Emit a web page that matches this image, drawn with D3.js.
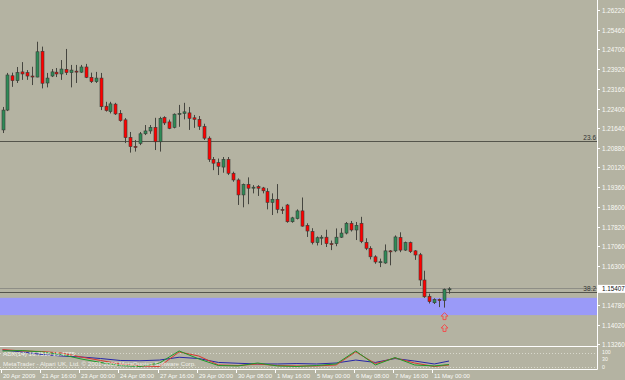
<!DOCTYPE html>
<html>
<head>
<meta charset="utf-8">
<script src="https://cdn.jsdelivr.net/npm/d3@7"></script>
<style>
  html, body { margin: 0; padding: 0; background: #b4b3a2; }
  svg { display: block; }
  text { font-family: "Liberation Sans", Arial, sans-serif; }
</style>
</head>
<body>
<svg id="chart"></svg>
<script>
// EURUSD H4 bars, 20 Apr 2009 08:00 .. 11 May 2009 12:00
const opens = [1.2157,1.2234,1.2367,1.2348,1.2382,1.2379,1.2366,1.2362,1.2462,1.2339,
  1.2366,1.2381,1.2374,1.2392,1.2379,1.2385,1.2381,1.2401,1.2361,1.2344,
  1.2358,1.2249,1.2228,1.2257,1.2221,1.2196,1.2128,1.2093,1.2105,1.2142,
  1.2153,1.2167,1.2111,1.2205,1.2188,1.2167,1.2218,1.2221,1.2223,1.2204,
  1.2198,1.2170,1.2125,1.2043,1.2030,1.2013,1.2043,1.1989,1.1963,1.1905,
  1.1946,1.1934,1.1937,1.1932,1.1918,1.1876,1.1888,1.1849,1.1866,1.1801,
  1.1813,1.1843,1.1787,1.1763,1.1720,1.1740,1.1741,1.1716,1.1716,1.1741,
  1.1757,1.1795,1.1769,1.1795,1.1721,1.1698,1.1665,1.1645,1.1641,1.1688,
  1.1688,1.1740,1.1691,1.1720,1.1688,1.1673,1.1575,1.1512,1.1487,1.1500,
  1.1496,1.1539]
const highs = [1.2246,1.2378,1.2379,1.2401,1.2420,1.2389,1.2402,1.2499,1.2480,1.2378,
  1.2393,1.2397,1.2428,1.2471,1.2409,1.2409,1.2409,1.2413,1.2379,1.2382,
  1.2378,1.2266,1.2266,1.2262,1.2234,1.2203,1.2149,1.2118,1.2149,1.2176,
  1.2176,1.2204,1.2208,1.2210,1.2197,1.2221,1.2254,1.2262,1.2246,1.2215,
  1.2211,1.2181,1.2132,1.2052,1.2046,1.2052,1.2052,1.1995,1.1969,1.1949,
  1.1973,1.1943,1.1943,1.1936,1.1931,1.1911,1.1947,1.1859,1.1870,1.1820,
  1.1849,1.1895,1.1795,1.1776,1.1744,1.1749,1.1770,1.1728,1.1775,1.1776,
  1.1800,1.1804,1.1800,1.1820,1.1737,1.1706,1.1671,1.1658,1.1713,1.1691,
  1.1748,1.1760,1.1724,1.1724,1.1691,1.1680,1.1611,1.1522,1.1504,1.1503,
  1.1542,1.1547]
const lows = [1.2145,1.2230,1.2324,1.2339,1.2351,1.2351,1.2331,1.2361,1.2318,1.2322,
  1.2362,1.2362,1.2351,1.2370,1.2322,1.2339,1.2378,1.2358,1.2339,1.2339,
  1.2234,1.2228,1.2221,1.2215,1.2189,1.2106,1.2069,1.2073,1.2098,1.2137,
  1.2142,1.2079,1.2073,1.2176,1.2160,1.2163,1.2169,1.2198,1.2157,1.2165,
  1.2157,1.2118,1.2033,1.2001,1.1982,1.1991,1.1982,1.1956,1.1866,1.1857,
  1.1869,1.1911,1.1901,1.1911,1.1849,1.1827,1.1834,1.1831,1.1797,1.1797,
  1.1810,1.1782,1.1742,1.1713,1.1709,1.1711,1.1703,1.1691,1.1706,1.1738,
  1.1752,1.1763,1.1730,1.1718,1.1691,1.1655,1.1638,1.1625,1.1638,1.1632,
  1.1683,1.1683,1.1688,1.1680,1.1653,1.1552,1.1506,1.1484,1.1482,1.1470,
  1.1468,1.1522]
const closes = [1.2234,1.2370,1.2348,1.2379,1.2374,1.2366,1.2365,1.2460,1.2338,1.2358,
  1.2382,1.2374,1.2393,1.2379,1.2389,1.2382,1.2401,1.2361,1.2344,1.2358,
  1.2247,1.2232,1.2258,1.2219,1.2193,1.2127,1.2092,1.2091,1.2142,1.2153,
  1.2167,1.2111,1.2202,1.2184,1.2163,1.2218,1.2221,1.2227,1.2202,1.2198,
  1.2171,1.2125,1.2043,1.2028,1.2016,1.2043,1.1989,1.1963,1.1905,1.1946,
  1.1931,1.1935,1.1931,1.1921,1.1876,1.1888,1.1849,1.1848,1.1801,1.1816,
  1.1843,1.1784,1.1765,1.1720,1.1739,1.1741,1.1716,1.1714,1.1741,1.1757,
  1.1795,1.1769,1.1787,1.1724,1.1698,1.1665,1.1645,1.1646,1.1688,1.1687,
  1.1742,1.1691,1.1720,1.1685,1.1672,1.1575,1.1510,1.1491,1.1500,1.1495,
  1.1539,1.15407]

const priceLabels = ["1.26220","1.25460","1.24700","1.23920","1.23160","1.22400","1.21640",
  "1.20880","1.20120","1.19360","1.18600","1.17820","1.17060","1.16300","1.14780","1.14020","1.13260"]
const timeLabels = ["20 Apr 2009","21 Apr 16:00","23 Apr 00:00","24 Apr 08:00","27 Apr 16:00",
  "29 Apr 00:00","30 Apr 08:00","1 May 16:00","5 May 00:00","6 May 08:00","7 May 16:00","11 May 00:00"]
const timeLabelBars = [0,8,16,24,32,40,48,56,64,72,80,88]

const fibNames = ["23.6","38.2"]
const fibPrices = [1.2114, 1.1530]
const bidPrice = 1.15407
const zonePrices = [1.1506, 1.1439]
const arrowBar = 90
const arrowPrices = [1.1435, 1.1389]

// indicator window, read every 4 bars
const indBars = [0,4,8,12,16,20,24,28,32,36,40,44,48,52,56,60,64,68,72,76,80,84,88,91]
const indBlue = [118,104,86,75,68,57,43,41,46,66,57,29,23,18,18,21,18,25,46,29,57,39,18,39]
const indRed = [121,111,107,96,68,43,18,4,0,104,75,11,7,18,7,4,4,11,104,21,61,25,0,11]
const indGreen = [111,114,104,86,54,29,7,0,25,111,54,7,4,25,4,0,7,18,111,11,64,11,4,14]
const indLabels = ["100","30","0"]
const indLevels = [100, 30, 0]

// constants
const width = 625
const height = 380
const plotRight = 597
const mainBottom = 346
const indTop = 347
const indBottom = 369
const bg = "#b4b3a2"

const svg = d3.select('svg#chart').attr('width', width).attr('height', height)
svg.append('rect').attr('width', width).attr('height', height).attr('fill', bg)

const x = d3.scaleLinear().domain([0, 91]).range([2.5, 449])
const y = d3.scaleLinear().domain([1.2622, 1.1330]).range([10, 343.2])
const yi = d3.scaleLinear().domain([0, 100]).range([366.5, 352.5])

svg.append('clipPath').attr('id', 'mainClip')
  .append('rect').attr('x', 0).attr('y', 0).attr('width', plotRight).attr('height', mainBottom)
svg.append('clipPath').attr('id', 'indClip')
  .append('rect').attr('x', 0).attr('y', indTop).attr('width', plotRight).attr('height', indBottom - indTop)

const main = svg.append('g').attr('clip-path', 'url(#mainClip)')

// blue zone
main.append('rect')
  .attr('x', 0).attr('width', plotRight)
  .attr('y', y(zonePrices[0])).attr('height', y(zonePrices[1]) - y(zonePrices[0]))
  .attr('fill', '#9a9af8')

// bid line
main.append('line')
  .attr('x1', 0).attr('x2', plotRight)
  .attr('y1', Math.round(y(bidPrice)) - 0.5).attr('y2', Math.round(y(bidPrice)) - 0.5)
  .attr('stroke', '#8e8e86').attr('stroke-width', 1)

// fibo levels
fibPrices.forEach((p, i) => {
  const yy = Math.round(y(p)) + 0.5
  main.append('line')
    .attr('x1', 0).attr('x2', plotRight).attr('y1', yy).attr('y2', yy)
    .attr('stroke', '#55554c').attr('stroke-width', 1)
  svg.append('text')
    .attr('x', plotRight - 1).attr('y', yy - 2)
    .attr('text-anchor', 'end').attr('font-size', 6.5).attr('fill', '#333')
    .text(fibNames[i])
})

// candles
const idx = d3.range(opens.length)
const candles = main.append('g').selectAll('g').data(idx).enter().append('g')
candles.append('line')
  .attr('x1', i => Math.round(x(i)) + 0.5).attr('x2', i => Math.round(x(i)) + 0.5)
  .attr('y1', i => y(highs[i])).attr('y2', i => y(lows[i]))
  .attr('stroke', '#45453f').attr('stroke-width', 1)
candles.append('rect')
  .attr('x', i => Math.round(x(i)) - 1)
  .attr('width', 3)
  .attr('y', i => y(Math.max(opens[i], closes[i])))
  .attr('height', i => Math.max(1, Math.abs(y(opens[i]) - y(closes[i]))))
  .attr('fill', i => closes[i] >= opens[i] ? '#2e8b57' : '#ff0000')
  .attr('stroke', '#3a3a36').attr('stroke-width', 0.6)

// arrows under the last bars
main.append('g').selectAll('path').data(arrowPrices).enter().append('path')
  .attr('transform', p => 'translate(' + (Math.round(x(arrowBar)) + 0.5) + ',' + y(p) + ')')
  .attr('d', 'M0,-3.5 L3.5,0 L1.5,0 L1.5,3.5 L-1.5,3.5 L-1.5,0 L-3.5,0 Z')
  .attr('fill', 'none').attr('stroke', '#f05050').attr('stroke-width', 1)

// price axis
const axisG = svg.append('g')
priceLabels.forEach(l => {
  const yy = Math.round(y(+l)) + 0.5
  axisG.append('line').attr('x1', plotRight).attr('x2', plotRight + 3).attr('y1', yy).attr('y2', yy)
    .attr('stroke', '#fff')
  axisG.append('text').attr('x', plotRight + 5).attr('y', yy + 2.3)
    .attr('font-size', 6.3).attr('fill', '#fafaf5').text(l)
})
// bid marker on axis
const by = y(bidPrice)
axisG.append('rect').attr('x', plotRight + 1).attr('y', by - 4).attr('width', 27).attr('height', 8)
  .attr('fill', '#fff')
axisG.append('text').attr('x', plotRight + 5).attr('y', by + 2.3)
  .attr('font-size', 6.3).attr('fill', '#111').text(bidPrice.toFixed(5))

// indicator pane
const ind = svg.append('g').attr('clip-path', 'url(#indClip)')
;[100, 0].forEach(v => {
  ind.append('line').attr('x1', 0).attr('x2', plotRight)
    .attr('y1', Math.round(yi(v)) + 0.5).attr('y2', Math.round(yi(v)) + 0.5)
    .attr('stroke', '#d8d8cc').attr('stroke-dasharray', '1,2')
})
const lineGen = vals => d3.line().x((d, k) => x(indBars[k])).y(d => yi(d))(vals)
;[[indBlue, '#2727a8'], [indRed, '#d83a30'], [indGreen, '#1f9a2a']].forEach(([vals, col]) => {
  ind.append('path').attr('d', lineGen(vals)).attr('fill', 'none')
    .attr('stroke', col).attr('stroke-width', 1)
})
svg.append('text').attr('x', 3).attr('y', 356).attr('font-size', 6.2).attr('fill', '#f0f0ea')
  .text('ADX(14) 16.7510 15.4775')
svg.append('text').attr('x', 3).attr('y', 366).attr('font-size', 6.2).attr('fill', '#f0f0ea')
  .text('MetaTrader - Alpari UK, Ltd. \u00a9 2001-2009 MetaQuotes Software Corp.')
// scale labels of the sub window, stacked so they do not collide
const indLabelY = d3.scaleLinear().domain([0, 2]).range([353.5, 368.5])
indLabels.forEach((l, k) => {
  svg.append('text').attr('x', plotRight + 5).attr('y', indLabelY(k))
    .attr('font-size', 5.2).attr('fill', '#fafaf5').text(l)
})

// frame
svg.append('line').attr('x1', plotRight + 0.5).attr('x2', plotRight + 0.5).attr('y1', 0).attr('y2', indBottom + 0.5)
  .attr('stroke', '#fff')
svg.append('line').attr('x1', 0).attr('x2', plotRight + 0.5).attr('y1', mainBottom + 0.5).attr('y2', mainBottom + 0.5)
  .attr('stroke', '#fff')
svg.append('line').attr('x1', 0).attr('x2', plotRight + 0.5).attr('y1', indBottom + 0.5).attr('y2', indBottom + 0.5)
  .attr('stroke', '#fff')

// time axis
timeLabels.forEach((t, k) => {
  const xx = Math.round(x(timeLabelBars[k])) - 1.5
  svg.append('line').attr('x1', xx).attr('x2', xx).attr('y1', indBottom).attr('y2', indBottom + 4)
    .attr('stroke', '#fff')
  svg.append('text').attr('x', xx + 1.5).attr('y', 377.5)
    .attr('font-size', 6).attr('fill', '#fafaf5').text(t)
})
</script>
</body>
</html>
